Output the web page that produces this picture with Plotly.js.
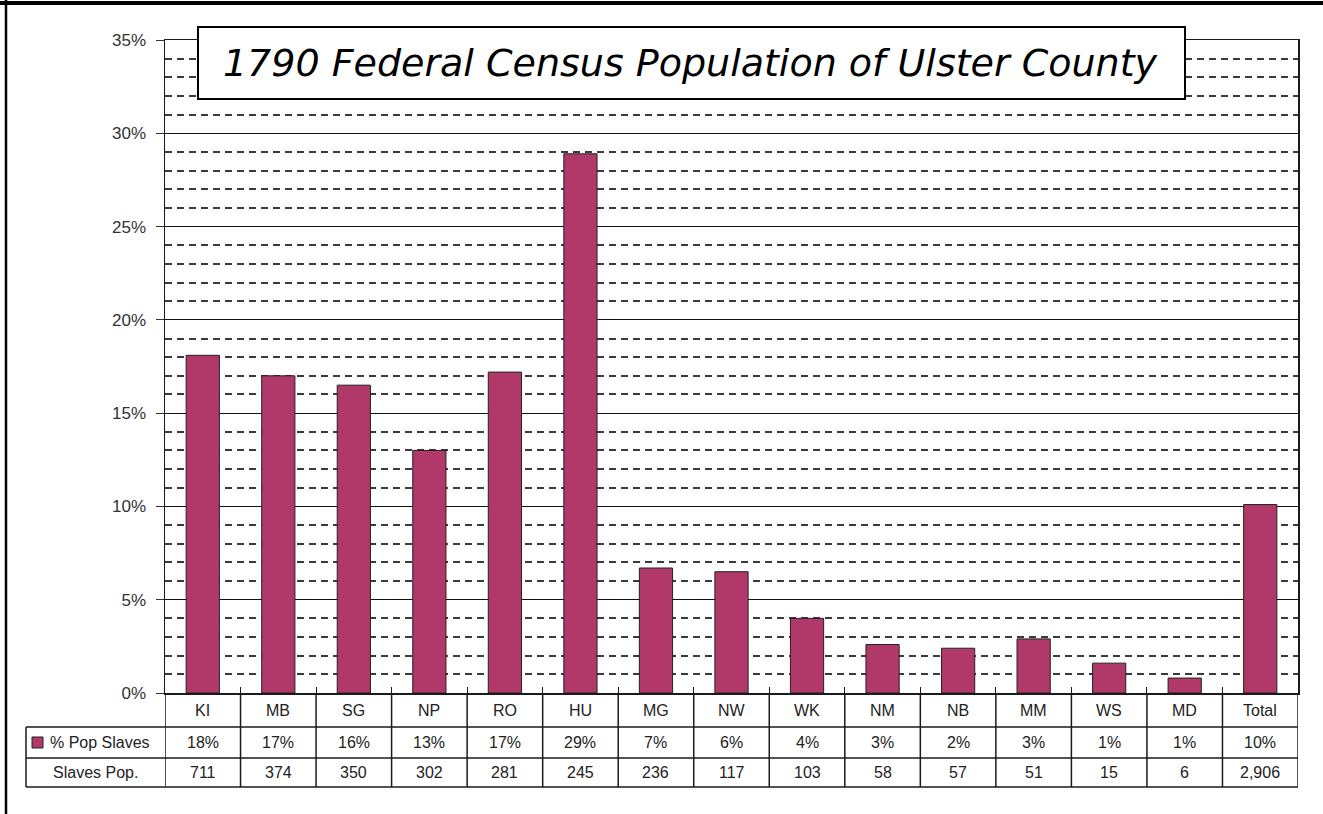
<!DOCTYPE html>
<html>
<head>
<meta charset="utf-8">
<script src="https://cdn.plot.ly/plotly-3.0.1.min.js"></script>
<style>html,body{margin:0;padding:0;background:#fff;}#chart{width:1323px;height:814px;}</style>
</head>
<body>
<div id="chart"></div>
<script>
const categories = ['KI','MB','SG','NP','RO','HU','MG','NW','WK','NM','NB','MM','WS','MD','Total'];
const pctSlaves = [18.1,17.0,16.5,13.0,17.2,28.9,6.7,6.5,4.0,2.6,2.4,2.9,1.6,0.8,10.1];
const pctLabels = ['18%','17%','16%','13%','17%','29%','7%','6%','4%','3%','2%','3%','1%','1%','10%'];
const slavesPop = [711,374,350,302,281,245,236,117,103,58,57,51,15,6,2906];
const rowNames = ['% Pop Slaves','Slaves Pop.'];
const titleText = '1790 Federal Census Population of Ulster County';

const W = 1323, H = 814;
const M = {l:165, r:25, t:40, b:121};
const PW = W - M.l - M.r, PH = H - M.t - M.b;
const px = v => (v - M.l) / PW;          // pixel x -> paper
const py = v => (H - M.b - v) / PH;      // pixel y -> paper

const barColor = '#b0396a';
const lineCol = '#1a1a1a';
const tFont = {family:'Liberation Sans, Arial, sans-serif', size:16, color:'#222'};

const rowY = [693, 727, 758, 787];
const hdrX = 26;

const shapes = [];
const annotations = [];
// title box
shapes.push({type:'rect', layer:'above', xref:'paper', yref:'paper',
  x0:px(198), x1:px(1185), y0:py(99), y1:py(27), fillcolor:'#fff', line:{color:'#000', width:2}});
// outer frame (top, left)
shapes.push({type:'line', xref:'paper', yref:'paper', x0:px(0), x1:px(W), y0:py(3), y1:py(3), line:{color:'#000', width:4}});
shapes.push({type:'line', xref:'paper', yref:'paper', x0:px(6), x1:px(6), y0:py(0), y1:py(H), line:{color:'#000', width:2.5}});
// table horizontal lines
[1,2,3].forEach(r => shapes.push({type:'line', xref:'paper', yref:'paper',
  x0:px(hdrX), x1:1, y0:py(rowY[r]), y1:py(rowY[r]), line:{color:lineCol, width:1.5}}));
// header column left line
shapes.push({type:'line', xref:'paper', yref:'paper', x0:px(hdrX), x1:px(hdrX), y0:py(rowY[1]), y1:py(rowY[3]), line:{color:lineCol, width:1.5}});
// vertical cell lines
for (let i = 0; i <= categories.length; i++) {
  shapes.push({type:'line', xref:'x', yref:'paper', x0:i-0.5, x1:i-0.5, y0:py(rowY[0]), y1:py(rowY[3]), line:{color:lineCol, width:1.5}});
}
// legend key
shapes.push({type:'rect', xref:'paper', yref:'paper', x0:px(32), x1:px(43), y0:py(748), y1:py(737),
  fillcolor:barColor, line:{color:'#222', width:1}});

const midY = r => py((rowY[r] + rowY[r+1]) / 2);
categories.forEach((c, i) => {
  annotations.push({x:i, xref:'x', y:midY(0), yref:'paper', text:c, showarrow:false, font:tFont, xanchor:'center', yanchor:'middle'});
  annotations.push({x:i, xref:'x', y:midY(1), yref:'paper', text:pctLabels[i], showarrow:false, font:tFont, xanchor:'center', yanchor:'middle'});
  annotations.push({x:i, xref:'x', y:midY(2), yref:'paper', text:slavesPop[i].toLocaleString('en-US'), showarrow:false, font:tFont, xanchor:'center', yanchor:'middle'});
});
annotations.push({x:px(48), xref:'paper', y:midY(1), yref:'paper', text:rowNames[0], showarrow:false, font:tFont, xanchor:'left', yanchor:'middle'});
annotations.push({x:px(95), xref:'paper', y:midY(2), yref:'paper', text:rowNames[1], showarrow:false, font:tFont, xanchor:'center', yanchor:'middle'});

const trace = {
  type:'bar', x:categories, y:pctSlaves, name:rowNames[0], width:0.44,
  marker:{color:barColor, line:{color:'#222', width:1}},
  hovertemplate:'%{x}: %{y}%<extra></extra>'
};

const layout = {
  width:W, height:H, margin:M, paper_bgcolor:'#fff', plot_bgcolor:'#fff', showlegend:false,
  title:{text:titleText, xref:'container', yref:'container', x:690/W, xanchor:'center', y:1-63/H, yanchor:'middle',
    font:{family:'DejaVu Sans, Verdana, sans-serif', size:38, style:'italic', color:'#000'}},
  xaxis:{type:'category', range:[-0.5, categories.length-0.5], showticklabels:false, showgrid:false,
    ticks:'inside', tickson:'boundaries', ticklen:6, tickcolor:lineCol, showline:true, mirror:true, linecolor:lineCol, linewidth:1.5, fixedrange:true},
  yaxis:{range:[0,35], tick0:0, dtick:5, ticksuffix:'%', showline:true, mirror:true, linecolor:lineCol, linewidth:1.5,
    showgrid:true, gridcolor:'#111', gridwidth:1, zeroline:false, ticks:'outside', ticklen:8, tickcolor:'#333',
    ticklabelstandoff:6,
    tickfont:{family:'Liberation Sans, Arial, sans-serif', size:17, color:'#333'},
    minor:{dtick:1, showgrid:true, gridcolor:'#3a3a3a', griddash:'7px,5px', gridwidth:2}, fixedrange:true},
  shapes:shapes, annotations:annotations
};

Plotly.newPlot('chart', [trace], layout, {displayModeBar:false, staticPlot:true});
</script>
</body>
</html>
